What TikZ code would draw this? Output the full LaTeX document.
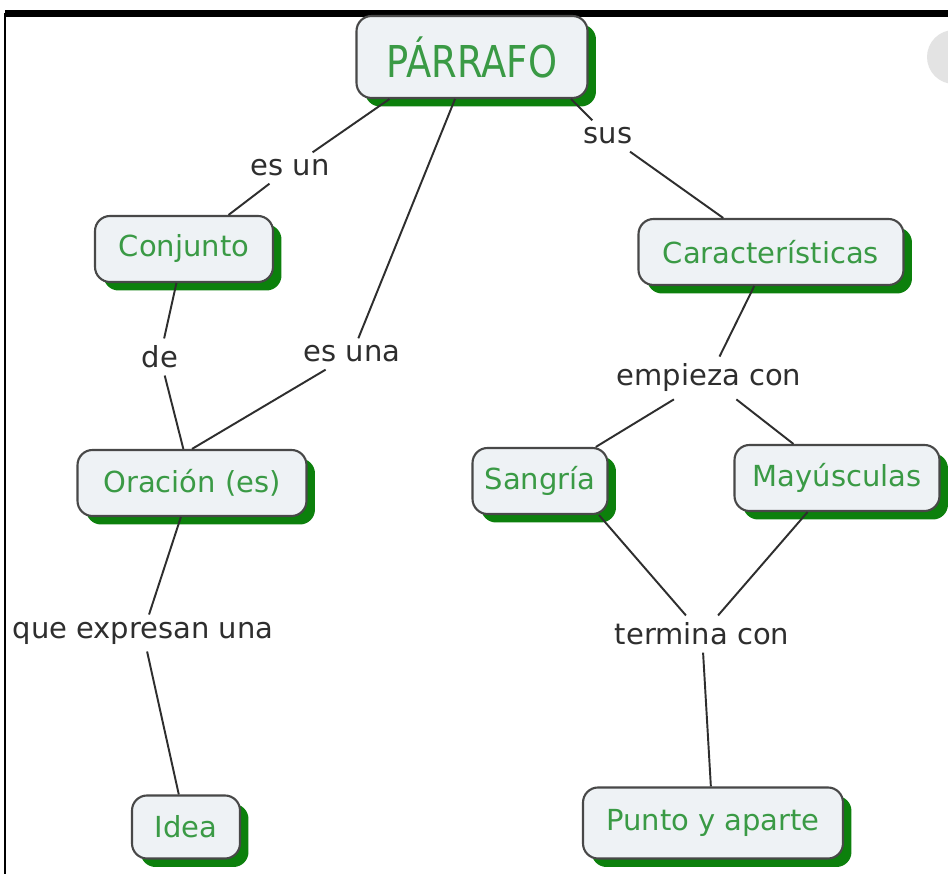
\documentclass[tikz,border=0pt]{standalone}
\usepackage{fontspec}
\setmainfont{DejaVu Sans}
\usetikzlibrary{shadows}
\definecolor{mapgreen}{HTML}{3A9A45}
\definecolor{shadowgreen}{HTML}{0C800C}
\definecolor{boxfill}{HTML}{EEF2F5}
\definecolor{boxline}{HTML}{484848}
\definecolor{linkgray}{HTML}{2E2E2E}
\tikzset{
  concept/.style={draw=boxline, line width=1.2pt, fill=boxfill, rounded corners=0.3cm,
    text=mapgreen, font=\fontsize{16.5}{19}\selectfont, minimum height=1.32cm, inner sep=0pt,
    drop shadow={shadow xshift=0.17cm, shadow yshift=-0.17cm, fill=shadowgreen, opacity=1}},
  link/.style={text=linkgray, font=\fontsize{16.5}{19}\selectfont, inner sep=0.14cm},
  conn/.style={draw=linkgray, line width=1.1pt}
}
\begin{document}
\begin{tikzpicture}[x=0.02cm,y=-0.02cm]
  \useasboundingbox (0,0) rectangle (948,874);
  \fill[white] (0,0) rectangle (948,874);
  \fill[black] (5,10) rectangle (948,17);
  \draw[black, line width=0.9pt] (5,13) -- (5,874);
  \fill[gray!22] (954,57) circle[radius=0.54cm];

  \node[concept, minimum width=4.62cm, minimum height=1.64cm, font=\fontsize{25}{28}\selectfont] (parrafo) at (472,57) {\scalebox{0.84}[1]{PÁRRAFO}};
  \node[concept, minimum width=3.56cm] (conjunto) at (184,249) {Conjunto};
  \node[concept, minimum width=5.3cm] (caract) at (771,252) {Características};
  \node[concept, minimum width=4.58cm] (oracion) at (192,483) {Oración (es)};
  \node[concept, minimum width=2.7cm] (sangria) at (540,481) {Sangría};
  \node[concept, minimum width=4.1cm] (mayus) at (837,478) {Mayúsculas};
  \node[concept, minimum width=2.16cm, minimum height=1.26cm] (idea) at (186,827) {Idea};
  \node[concept, minimum width=5.2cm, minimum height=1.42cm] (punto) at (713,823) {Punto y aparte};

  \node[link] (esun) at (290,168) {es un};
  \node[link] (de) at (160,357) {de};
  \node[link] (esuna) at (352,354) {es una};
  \node[link] (sus) at (608,136) {sus};
  \node[link] (empieza) at (709,378) {empieza con};
  \node[link] (expresan) at (143,633) {que expresan una};
  \node[link] (termina) at (702,634) {termina con};

  \draw[conn] (parrafo.-153) -- (esun);
  \draw[conn] (esun) -- (conjunto);
  \draw[conn] (parrafo) -- (esuna);
  \draw[conn] (esuna) -- (oracion.north);
  \draw[conn] (parrafo.-23) -- (sus);
  \draw[conn] (sus) -- (caract);
  \draw[conn] (conjunto) -- (de);
  \draw[conn] (de) -- (oracion);
  \draw[conn] (caract) -- (empieza);
  \draw[conn] (empieza) -- (sangria);
  \draw[conn] (empieza) -- (mayus);
  \draw[conn] (oracion) -- (expresan);
  \draw[conn] (expresan) -- (idea);
  \draw[conn] (sangria.-30) -- (termina);
  \draw[conn] (mayus) -- (termina);
  \draw[conn] (termina) -- (punto);
\end{tikzpicture}
\end{document}
